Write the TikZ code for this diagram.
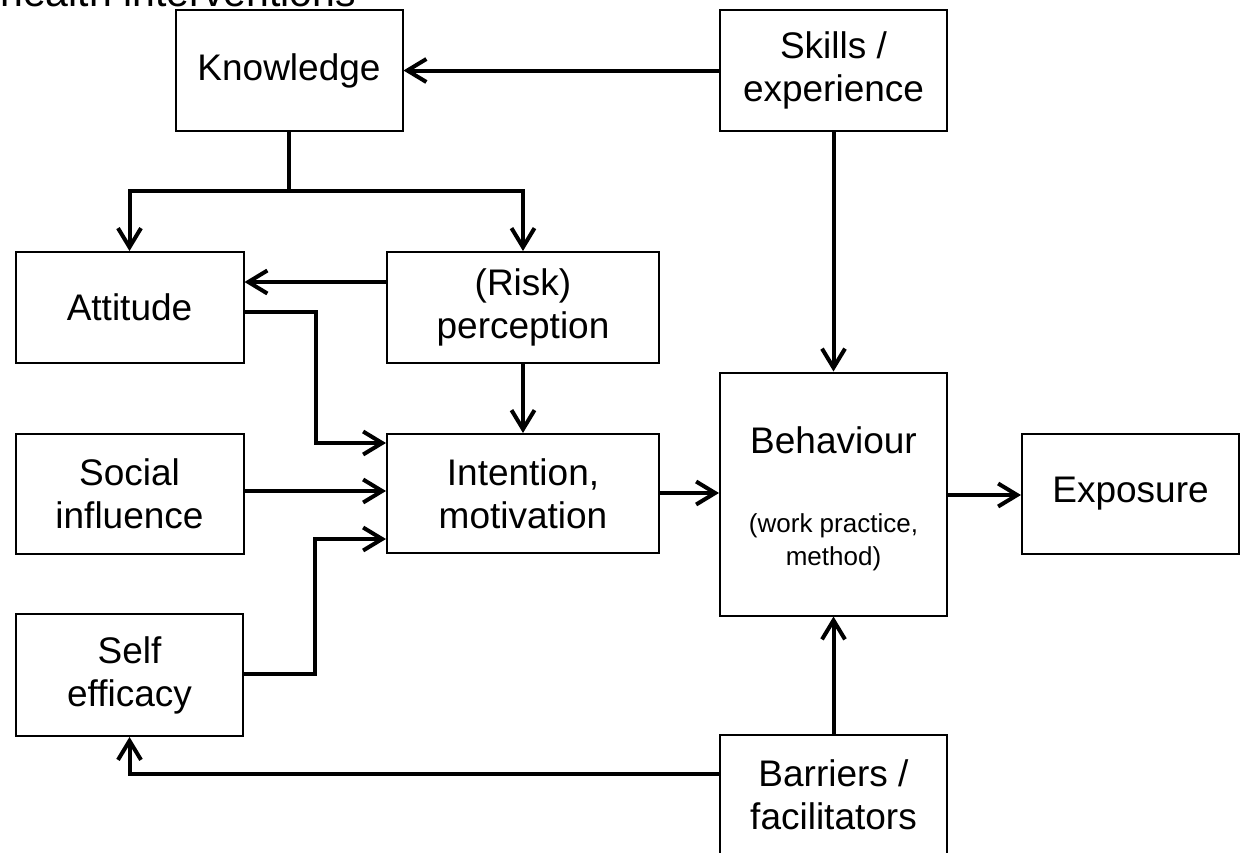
\documentclass[tikz,border=0pt]{standalone}
\usepackage{fontspec}
\setmainfont{Liberation Sans}
\usetikzlibrary{arrows.meta}
\tikzset{
  box/.style={draw, line width=2pt, inner sep=0pt, align=center,
    font=\fontsize{37}{43}\selectfont},
  arr/.style={line width=4pt, -{Straight Barb[length=19pt,width=23pt,line width=4pt]}},
  lin/.style={line width=4pt},
  small/.style={inner sep=0pt, font=\fontsize{26}{32}\selectfont}
}
\begin{document}
\begin{tikzpicture}[x=1pt,y=-1pt]
\useasboundingbox (0,0) rectangle (1242,852);
\clip (0,0) rectangle (1242,852);
\fill[white] (0,0) rectangle (1242,852);
\node[anchor=base east, inner sep=0pt, font=\fontsize{41}{47}\selectfont] (title) at (356,6) {health interventions};

\node[box, minimum width=227pt, minimum height=121pt] (know) at (289,70.5) {Knowledge};
\node[box, minimum width=227pt, minimum height=121pt] (skills) at (833.5,70.5) {Skills /\\experience};
\node[box, minimum width=228pt, minimum height=111pt] (att) at (129.5,307.5) {Attitude};
\node[box, minimum width=272pt, minimum height=111pt] (risk) at (523,307.5) {(Risk)\\perception};
\node[box, minimum width=228pt, minimum height=120pt] (soc) at (129.5,494) {Social\\influence};
\node[box, minimum width=272pt, minimum height=119pt] (int) at (523,493.5) {Intention,\\motivation};
\node[box, minimum width=227pt, minimum height=122pt] (self) at (129.5,675) {Self\\efficacy};
\node[box, minimum width=227pt, minimum height=243pt] (beh) at (833.5,494) {};
\node[anchor=base, inner sep=0pt, font=\fontsize{37}{43}\selectfont] (behT) at (833.5,453) {Behaviour};
\node[anchor=base, small] (behS1) at (833.5,532) {(work practice,};
\node[anchor=base, small] (behS2) at (833.5,565) {method)};
\node[box, minimum width=217pt, minimum height=120pt] (exp) at (1130.5,494) {Exposure};
\node[box, minimum width=227pt, minimum height=120pt] (bar) at (833.5,795) {Barriers /\\facilitators};

\coordinate (kj) at (289,191);
\draw[arr] (skills.west) -- (know.east);
\draw[lin] (know.south) -- (kj);
\draw[arr] (kj) -| (att.north);
\draw[arr] (kj) -| (risk.north);
\draw[arr] (risk.west |- 0,282) -- (att.east |- 0,282);
\draw[arr] (att.east |- 0,312) -- (316,312) -- (316,443) -- (int.west |- 0,443);
\draw[arr] (risk.south) -- (int.north);
\draw[arr] (soc.east |- 0,491) -- (int.west |- 0,491);
\draw[arr] (self.east |- 0,674) -- (315,674) -- (315,539) -- (int.west |- 0,539);
\draw[arr] (int.east |- 0,493) -- (beh.west |- 0,493);
\draw[arr] (beh.east |- 0,495) -- (exp.west |- 0,495);
\draw[arr] (skills.south) -- (beh.north);
\draw[arr] (bar.north) -- (beh.south);
\draw[arr] (bar.west |- 0,774) -| (self.south);
\end{tikzpicture}
\end{document}
